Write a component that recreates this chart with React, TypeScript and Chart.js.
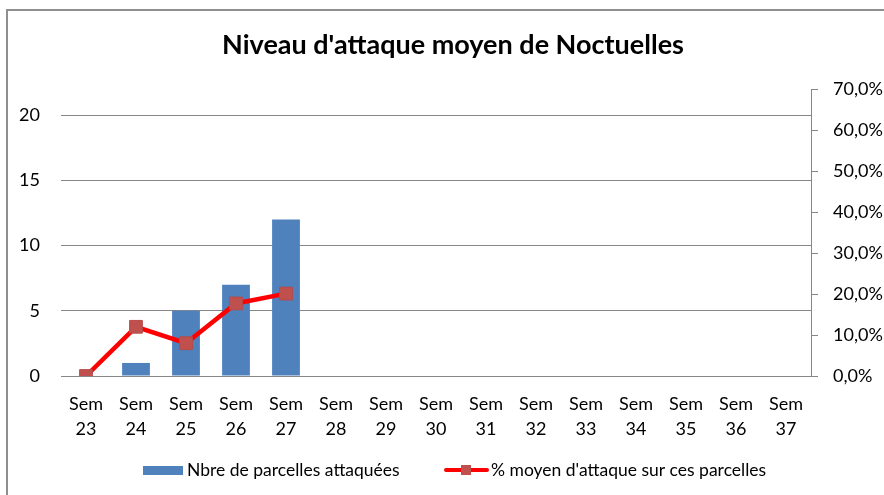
import React, { useEffect, useRef } from "react";
import { Chart, registerables } from "chart.js";

Chart.register(...registerables);

const TITLE = "Niveau d'attaque moyen de Noctuelles";
const categories = [
  "Sem 23", "Sem 24", "Sem 25", "Sem 26", "Sem 27", "Sem 28", "Sem 29", "Sem 30",
  "Sem 31", "Sem 32", "Sem 33", "Sem 34", "Sem 35", "Sem 36", "Sem 37",
];
const barLabel = "Nbre de parcelles attaquées";
const barValues: (number | null)[] = [0, 1, 5, 7, 12, null, null, null, null, null, null, null, null, null, null];
const lineLabel = "% moyen d'attaque sur ces parcelles";
const lineValues: (number | null)[] = [0, 12, 8, 17.7, 20.1, null, null, null, null, null, null, null, null, null, null];
const leftTicks = [0, 5, 10, 15, 20];
const rightTicks = [0, 10, 20, 30, 40, 50, 60, 70];

const FONT = "Lato, 'Open Sans', sans-serif";
const BLUE = "#4F81BD";
const RED = "#FF0000";
const MARKER = "#C0504D";
const GRID = "#878787";

const titleAndLegend = {
  id: "titleAndLegend",
  afterDraw(chart: any) {
    const ctx = chart.ctx;
    ctx.save();
    ctx.fillStyle = "#000";
    ctx.font = `bold 27px ${FONT}`;
    ctx.textAlign = "center";
    ctx.textBaseline = "middle";
    ctx.fillText(TITLE, 453, 45);

    const ly = 470;
    ctx.font = `17.5px ${FONT}`;
    ctx.textAlign = "left";
    ctx.fillStyle = BLUE;
    ctx.fillRect(143, 466, 40, 9);
    ctx.fillStyle = "#000";
    ctx.fillText(chart.data.datasets[0].label, 187, ly);

    ctx.strokeStyle = RED;
    ctx.lineWidth = 4;
    ctx.lineCap = "round";
    ctx.beginPath();
    ctx.moveTo(446, ly);
    ctx.lineTo(487, ly);
    ctx.stroke();
    ctx.fillStyle = MARKER;
    ctx.fillRect(461, ly - 5, 10, 10);
    ctx.fillStyle = "#000";
    ctx.fillText(chart.data.datasets[1].label, 491, ly);
    ctx.restore();
  },
};

export default function App() {
  const ref = useRef<HTMLCanvasElement | null>(null);
  useEffect(() => {
    if (!ref.current) return;
    const chart = new Chart(ref.current, {
      type: "bar",
      data: {
        labels: categories.map((c) => c.split(" ")),
        datasets: [
          {
            type: "bar",
            label: barLabel,
            data: barValues,
            backgroundColor: BLUE,
            yAxisID: "y",
            categoryPercentage: 1,
            barPercentage: 0.556,
            order: 2,
          },
          {
            type: "line",
            label: lineLabel,
            data: lineValues,
            borderColor: RED,
            borderWidth: 4.5,
            pointStyle: "rect",
            pointRadius: 9,
            pointBackgroundColor: MARKER,
            pointBorderColor: "#B84A47",
            pointBorderWidth: 1,
            yAxisID: "y1",
            order: 1,
            spanGaps: false,
          } as any,
        ],
      },
      options: {
        animation: false,
        responsive: false,
        devicePixelRatio: 1,
        layout: { padding: { top: 89, left: 0, right: 0, bottom: 0 } },
        plugins: { legend: { display: false }, title: { display: false }, tooltip: { enabled: false } },
        scales: {
          x: {
            grid: { display: false, drawTicks: false },
            border: { display: false },
            ticks: {
              color: "#000",
              font: { family: FONT, size: 18, lineHeight: 1.39 },
              padding: 16,
              maxRotation: 0,
              autoSkip: false,
            },
            afterFit(scale: any) { scale.height = 119; },
          },
          y: {
            position: "left",
            min: 0,
            max: 22,
            afterBuildTicks(scale: any) { scale.ticks = leftTicks.map((v) => ({ value: v })); },
            ticks: { color: "#000", font: { family: FONT, size: 18 }, padding: 21 },
            grid: { color: GRID, lineWidth: 1, drawTicks: false },
            border: { display: false },
            afterFit(scale: any) { scale.width = 61; },
          },
          y1: {
            position: "right",
            min: 0,
            max: 70,
            afterBuildTicks(scale: any) { scale.ticks = rightTicks.map((v) => ({ value: v })); },
            ticks: {
              color: "#000",
              font: { family: FONT, size: 18 },
              padding: 15,
              callback: (v: any) => `${Number(v).toFixed(1).replace(".", ",")}%`,
            },
            grid: { drawOnChartArea: false, color: GRID, tickLength: 7, tickWidth: 1 },
            border: { display: true, color: GRID, width: 1 },
            afterFit(scale: any) { scale.width = 73; },
          },
        },
      },
      plugins: [titleAndLegend],
    });
    return () => chart.destroy();
  }, []);

  return (
    <div style={{ position: "fixed", left: 0, top: 0, width: 884, height: 495, background: "#fff", overflow: "hidden" }}>
      <div style={{ position: "absolute", left: 6, top: 9, width: 900, height: 500, borderTop: "2px solid #8f8f8f", borderLeft: "2px solid #8f8f8f" }} />
      <canvas ref={ref} width={884} height={495} style={{ position: "absolute", left: 0, top: 0, width: 884, height: 495 }} />
    </div>
  );
}
